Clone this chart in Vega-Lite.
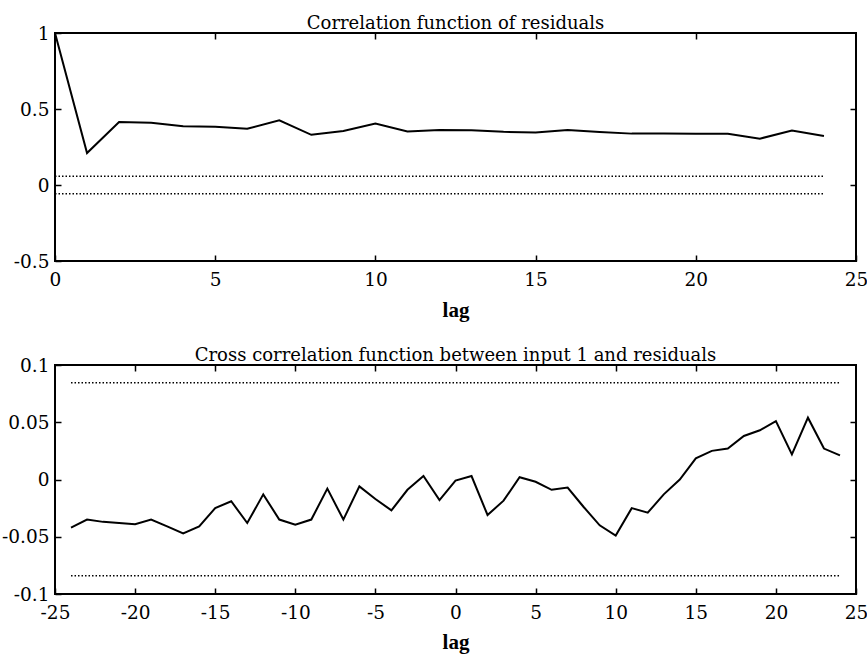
{
  "$schema": "https://vega.github.io/schema/vega-lite/v6.json",
  "background": "white",
  "padding": {"left": 0, "top": 14, "right": 0, "bottom": 0},
  "spacing": 24,
  "config": {
    "font": "DejaVu Serif",
    "view": {"stroke": "black", "strokeWidth": 2},
    "axis": {
      "grid": false,
      "domain": false,
      "labelColor": "black",
      "labelFont": "DejaVu Serif",
      "labelFontSize": 18.5,
      "labelFlush": false,
      "labelOverlap": false,
      "titleFont": "Liberation Serif",
      "titleFontSize": 21,
      "titleFontWeight": "bold",
      "titleColor": "black"
    },
    "title": {"font": "DejaVu Serif", "fontSize": 18, "fontWeight": "normal", "color": "black", "offset": -9}
  },
  "datasets": {
    "acf": [
      {"lag": 0, "r": 1.0}, {"lag": 1, "r": 0.21}, {"lag": 2, "r": 0.415}, {"lag": 3, "r": 0.41},
      {"lag": 4, "r": 0.386}, {"lag": 5, "r": 0.384}, {"lag": 6, "r": 0.37}, {"lag": 7, "r": 0.425},
      {"lag": 8, "r": 0.33}, {"lag": 9, "r": 0.355}, {"lag": 10, "r": 0.405}, {"lag": 11, "r": 0.352},
      {"lag": 12, "r": 0.362}, {"lag": 13, "r": 0.36}, {"lag": 14, "r": 0.35}, {"lag": 15, "r": 0.346},
      {"lag": 16, "r": 0.362}, {"lag": 17, "r": 0.348}, {"lag": 18, "r": 0.338}, {"lag": 19, "r": 0.338},
      {"lag": 20, "r": 0.337}, {"lag": 21, "r": 0.337}, {"lag": 22, "r": 0.305}, {"lag": 23, "r": 0.358},
      {"lag": 24, "r": 0.322}
    ],
    "acfBand": [
      {"band": "upper", "lag": 0, "v": 0.057}, {"band": "upper", "lag": 24, "v": 0.057},
      {"band": "lower", "lag": 0, "v": -0.057}, {"band": "lower", "lag": 24, "v": -0.057}
    ],
    "ccf": [
      {"lag": -24, "r": -0.042}, {"lag": -23, "r": -0.035}, {"lag": -22, "r": -0.037}, {"lag": -21, "r": -0.038},
      {"lag": -20, "r": -0.039}, {"lag": -19, "r": -0.035}, {"lag": -18, "r": -0.041}, {"lag": -17, "r": -0.047},
      {"lag": -16, "r": -0.041}, {"lag": -15, "r": -0.025}, {"lag": -14, "r": -0.019}, {"lag": -13, "r": -0.038},
      {"lag": -12, "r": -0.013}, {"lag": -11, "r": -0.035}, {"lag": -10, "r": -0.0395}, {"lag": -9, "r": -0.035},
      {"lag": -8, "r": -0.008}, {"lag": -7, "r": -0.035}, {"lag": -6, "r": -0.006}, {"lag": -5, "r": -0.017},
      {"lag": -4, "r": -0.027}, {"lag": -3, "r": -0.009}, {"lag": -2, "r": 0.003}, {"lag": -1, "r": -0.018},
      {"lag": 0, "r": -0.001}, {"lag": 1, "r": 0.003}, {"lag": 2, "r": -0.031}, {"lag": 3, "r": -0.0185},
      {"lag": 4, "r": 0.002}, {"lag": 5, "r": -0.002}, {"lag": 6, "r": -0.009}, {"lag": 7, "r": -0.007},
      {"lag": 8, "r": -0.024}, {"lag": 9, "r": -0.04}, {"lag": 10, "r": -0.049}, {"lag": 11, "r": -0.025},
      {"lag": 12, "r": -0.029}, {"lag": 13, "r": -0.013}, {"lag": 14, "r": 0.0}, {"lag": 15, "r": 0.0185},
      {"lag": 16, "r": 0.025}, {"lag": 17, "r": 0.027}, {"lag": 18, "r": 0.038}, {"lag": 19, "r": 0.043},
      {"lag": 20, "r": 0.051}, {"lag": 21, "r": 0.022}, {"lag": 22, "r": 0.054}, {"lag": 23, "r": 0.027},
      {"lag": 24, "r": 0.021}
    ],
    "ccfBand": [
      {"band": "upper", "lag": -24, "v": 0.0845}, {"band": "upper", "lag": 24, "v": 0.0845},
      {"band": "lower", "lag": -24, "v": -0.084}, {"band": "lower", "lag": 24, "v": -0.084}
    ]
  },
  "vconcat": [
    {
      "width": 801,
      "height": 228,
      "title": {"text": "Correlation function of residuals"},
      "resolve": {"axis": {"x": "independent", "y": "independent"}},
      "layer": [
        {
          "data": {"name": "acf"},
          "mark": {"type": "line", "color": "black", "strokeWidth": 2},
          "encoding": {
            "x": {
              "field": "lag", "type": "quantitative",
              "scale": {"domain": [0, 25], "nice": false, "zero": false},
              "axis": {"orient": "bottom", "values": [0, 5, 10, 15, 20, 25], "title": "lag", "labelPadding": 9, "titlePadding": 11, "ticks": true, "tickColor": "black", "tickSize": 6, "offset": -6, "tickWidth": 1.5}
            },
            "y": {
              "field": "r", "type": "quantitative",
              "scale": {"domain": [-0.5, 1], "nice": false, "zero": false},
              "axis": {"orient": "left", "values": [-0.5, 0, 0.5, 1], "title": null, "labelPadding": 6, "labelBaseline": "middle", "labelExpr": "'' + datum.value", "ticks": true, "tickColor": "black", "tickSize": 6, "offset": -6, "tickWidth": 1.5}
            }
          }
        },
        {
          "data": {"name": "acfBand"},
          "mark": {"type": "line", "color": "black", "strokeWidth": 1.5, "strokeDash": [1.5, 2]},
          "encoding": {
            "detail": {"field": "band", "type": "nominal"},
            "x": {
              "field": "lag", "type": "quantitative",
              "axis": {"orient": "top", "values": [5, 10, 15, 20], "labels": false, "title": null, "minExtent": 0, "maxExtent": 0, "ticks": true, "tickColor": "black", "tickSize": 6, "offset": -6, "tickWidth": 1.5}
            },
            "y": {
              "field": "v", "type": "quantitative",
              "axis": {"orient": "right", "values": [0, 0.5], "labels": false, "title": null, "minExtent": 0, "maxExtent": 0, "ticks": true, "tickColor": "black", "tickSize": 6, "offset": -6, "tickWidth": 1.5}
            }
          }
        }
      ]
    },
    {
      "width": 801,
      "height": 229,
      "title": {"text": "Cross correlation function between input 1 and residuals"},
      "resolve": {"axis": {"x": "independent", "y": "independent"}},
      "layer": [
        {
          "data": {"name": "ccf"},
          "mark": {"type": "line", "color": "black", "strokeWidth": 2},
          "encoding": {
            "x": {
              "field": "lag", "type": "quantitative",
              "scale": {"domain": [-25, 25], "nice": false, "zero": false},
              "axis": {"orient": "bottom", "values": [-25, -20, -15, -10, -5, 0, 5, 10, 15, 20, 25], "title": "lag", "labelPadding": 9, "titlePadding": 10, "labelExpr": "'' + datum.value", "ticks": true, "tickColor": "black", "tickSize": 6, "offset": -6, "tickWidth": 1.5}
            },
            "y": {
              "field": "r", "type": "quantitative",
              "scale": {"domain": [-0.1, 0.1], "nice": false, "zero": false},
              "axis": {"orient": "left", "values": [-0.1, -0.05, 0, 0.05, 0.1], "title": null, "labelPadding": 6, "labelBaseline": "middle", "labelExpr": "'' + datum.value", "ticks": true, "tickColor": "black", "tickSize": 6, "offset": -6, "tickWidth": 1.5}
            }
          }
        },
        {
          "data": {"name": "ccfBand"},
          "mark": {"type": "line", "color": "black", "strokeWidth": 1.5, "strokeDash": [1.5, 2]},
          "encoding": {
            "detail": {"field": "band", "type": "nominal"},
            "x": {
              "field": "lag", "type": "quantitative",
              "axis": {"orient": "top", "values": [-20, -15, -10, -5, 0, 5, 10, 15, 20], "labels": false, "title": null, "minExtent": 0, "maxExtent": 0, "ticks": true, "tickColor": "black", "tickSize": 6, "offset": -6, "tickWidth": 1.5}
            },
            "y": {
              "field": "v", "type": "quantitative",
              "axis": {"orient": "right", "values": [-0.05, 0, 0.05], "labels": false, "title": null, "minExtent": 0, "maxExtent": 0, "ticks": true, "tickColor": "black", "tickSize": 6, "offset": -6, "tickWidth": 1.5}
            }
          }
        }
      ]
    }
  ]
}
